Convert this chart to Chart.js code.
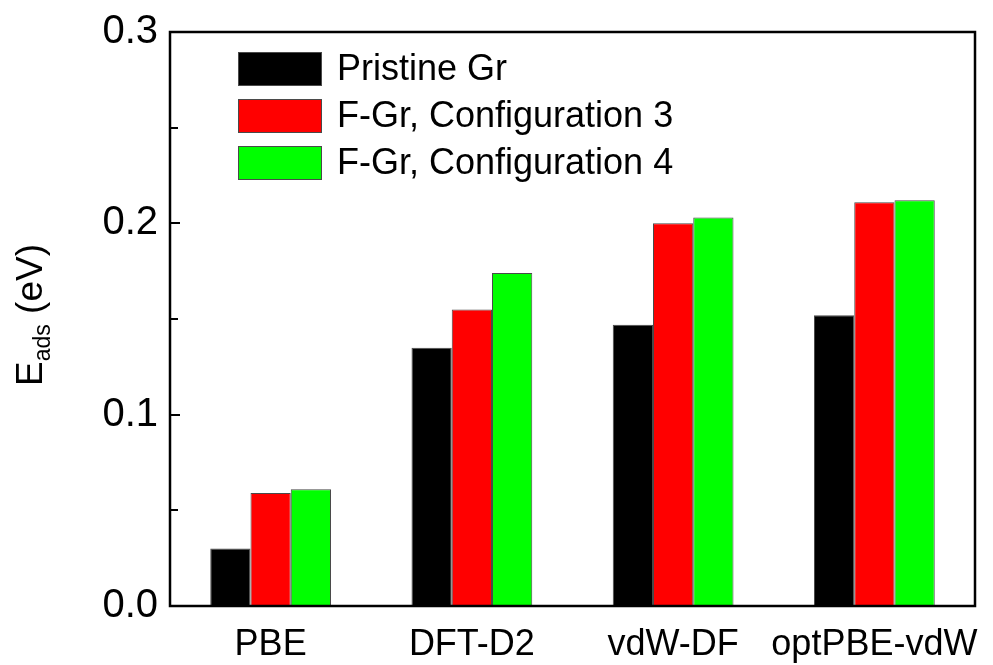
<!DOCTYPE html>
<html>
<head>
<meta charset="utf-8">
<script src="https://cdn.jsdelivr.net/npm/chart.js@4.4.1/dist/chart.umd.min.js"></script>
<style>
  html, body { margin: 0; padding: 0; background: #fff; }
  #wrap { width: 993px; height: 665px; }
</style>
</head>
<body>
<div id="wrap"><canvas id="adsChart"></canvas></div>
<script>
// Data (eV)
const methods = ['PBE', 'DFT-D2', 'vdW-DF', 'optPBE-vdW'];
const seriesNames = ['Pristine Gr', 'F-Gr, Configuration 3', 'F-Gr, Configuration 4'];
const pristine = [0.030, 0.135, 0.147, 0.152];
const config3 = [0.059, 0.155, 0.200, 0.211];
const config4 = [0.061, 0.174, 0.203, 0.212];
const yTicks = [0.0, 0.1, 0.2, 0.3];
const yMinorStep = 0.05;

const FONT = "'Liberation Sans', Arial, sans-serif";
const colors = {
    pristine: '#000000',
    config3: '#FF0000',
    config4: '#00FF00',
    edge: '#4a4a4a'
};

// frame + inward ticks, drawn after bars
const framePlugin = {
    id: 'frame',
    afterDatasetsDraw(chart) {
        const { ctx, chartArea: a, scales } = chart;
        const y = scales.y;
        ctx.save();
        ctx.strokeStyle = '#000';
        ctx.lineWidth = 2.5;
        ctx.strokeRect(a.left, a.top, a.right - a.left, a.bottom - a.top);
        ctx.lineWidth = 2;
        const n = Math.round((y.max - y.min) / yMinorStep);
        for (let i = 1; i < n; i++) {
            const py = Math.round(y.getPixelForValue(i * yMinorStep));
            ctx.beginPath();
            ctx.moveTo(a.left, py);
            ctx.lineTo(a.left + (i % 2 === 0 ? 10 : 8), py);
            ctx.stroke();
        }
        ctx.restore();
    }
};

// legend inside the plot, top-left
const legendPlugin = {
    id: 'innerLegend',
    afterDraw(chart) {
        const { ctx } = chart;
        ctx.save();
        ctx.font = '36px ' + FONT;
        ctx.textBaseline = 'middle';
        chart.data.datasets.forEach((ds, i) => {
            const top = 52 + i * 47;
            ctx.fillStyle = ds.backgroundColor;
            ctx.fillRect(238, top, 84, 34);
            ctx.strokeStyle = colors.edge;
            ctx.lineWidth = 1;
            ctx.strokeRect(238.5, top + 0.5, 83, 33);
            ctx.fillStyle = '#000';
            ctx.fillText(ds.label, 337, top + 18);
        });
        ctx.restore();
    }
};

// y title with subscript: E_ads (eV)
const yTitlePlugin = {
    id: 'yTitle',
    afterDraw(chart) {
        const { ctx, chartArea: a } = chart;
        const cy = (a.top + a.bottom) / 2 - 4;
        ctx.save();
        ctx.translate(42, cy);
        ctx.rotate(-Math.PI / 2);
        ctx.fillStyle = '#000';
        ctx.textBaseline = 'alphabetic';
        const big = '37px ' + FONT, small = '23px ' + FONT;
        ctx.font = big;
        const wE = ctx.measureText('E').width;
        const wRest = ctx.measureText(' (eV)').width;
        ctx.font = small;
        const wSub = ctx.measureText('ads').width;
        let x = -(wE + wSub + wRest) / 2;
        ctx.font = big;
        ctx.fillText('E', x, 0);
        x += wE;
        ctx.font = small;
        ctx.fillText('ads', x, 8);
        x += wSub;
        ctx.font = big;
        ctx.fillText(' (eV)', x, 0);
        ctx.restore();
    }
};

const ctxAds = document.getElementById('adsChart').getContext('2d');
new Chart(ctxAds, {
    type: 'bar',
    data: {
        labels: methods,
        datasets: [
            { label: seriesNames[0], data: pristine, backgroundColor: colors.pristine },
            { label: seriesNames[1], data: config3, backgroundColor: colors.config3 },
            { label: seriesNames[2], data: config4, backgroundColor: colors.config4 }
        ].map(d => Object.assign(d, {
            borderColor: colors.edge,
            borderWidth: 1,
            categoryPercentage: 0.6,
            barPercentage: 1.0
        }))
    },
    options: {
        responsive: true,
        maintainAspectRatio: false,
        animation: false,
        layout: { padding: { top: 32, right: 18, left: 0, bottom: 0 } },
        plugins: {
            legend: { display: false },
            tooltip: { enabled: false }
        },
        scales: {
            x: {
                grid: { display: false, drawTicks: false },
                border: { display: false },
                ticks: {
                    color: '#000',
                    font: { family: FONT, size: 36 },
                    padding: 17,
                    maxRotation: 0,
                    autoSkip: false
                },
                afterFit: s => {
                    s.height = 59;
                    s.paddingLeft = 0;
                    s.paddingRight = 0;
                }
            },
            y: {
                min: 0,
                max: 0.3,
                afterBuildTicks: s => { s.ticks = yTicks.map(v => ({ value: v })); },
                grid: { display: false, drawTicks: false },
                border: { display: false },
                ticks: {
                    color: '#000',
                    font: { family: FONT, size: 40 },
                    padding: 12,
                    callback: v => v.toFixed(1)
                },
                afterFit: s => {
                    s.width = 170;
                    s.paddingTop = 0;
                    s.paddingBottom = 0;
                }
            }
        }
    },
    plugins: [framePlugin, legendPlugin, yTitlePlugin]
});
</script>
</body>
</html>
